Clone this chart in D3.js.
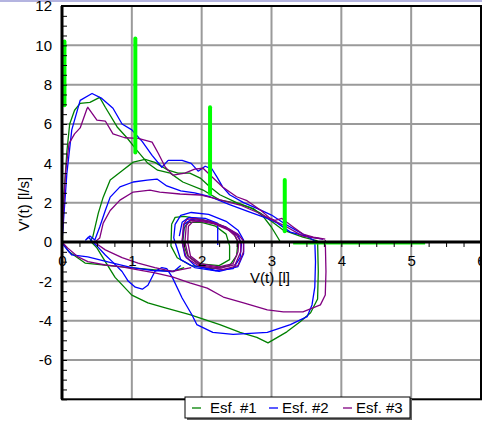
<!DOCTYPE html>
<html>
<head>
<meta charset="utf-8">
<script src="https://cdn.jsdelivr.net/npm/d3@7"></script>
<style>
  body { margin: 0; background: #fff; }
  svg { display: block; font-family: "Liberation Sans", Arial, sans-serif; }
</style>
</head>
<body>
<script>
// volume [l] / flow [l/s] pairs
let xTicks = [0, 1, 2, 3, 4, 5, 6]
let yTicks = [-6, -4, -2, 0, 2, 4, 6, 8, 10, 12]
let seriesNames = ["Esf. #1", "Esf. #2", "Esf. #3"]

// Esf. #1
let esf1Insp = [[1.75,-1.3],[1.58,-1.5],[1.33,-1.42],[0.86,-1.27],[0.33,-1.07],[0.1,-0.5],[0,0]]
let esf1Forced = [[0,0],[0.03,2.5],[0.07,4.6],[0.11,6.0],[0.18,6.7],[0.26,7.05],[0.4,7.1],[0.54,7.35],[0.62,6.85],[0.79,5.85],[0.93,5.3],[1.07,4.67],[1.23,4.0],[1.37,3.65],[1.55,3.5],[1.73,3.05],[2.02,2.64],[2.26,2.13],[2.5,1.98],[2.7,1.73],[2.84,1.47],[2.98,1.1],[3.17,0.6],[3.45,0.25],[3.66,0.05]]
let esf1InspBig = [[3.66,0.05],[3.67,-1.5],[3.66,-2.9],[3.56,-3.6],[3.41,-4.06],[3.22,-4.57],[2.95,-5.13],[2.79,-4.85],[2.55,-4.6],[2.26,-4.2],[1.83,-3.7],[1.48,-3.35],[1.23,-3.1],[1.0,-2.7],[0.76,-1.8],[0.62,-1.0],[0.5,-0.3],[0.42,0]]
let esf1Second = [[0.4,0],[0.44,0.25],[0.52,1.47],[0.59,2.28],[0.69,3.15],[0.87,3.65],[1.02,4.06],[1.19,4.2],[1.33,4.05],[1.52,3.65],[1.66,3.5],[1.83,3.5],[1.98,3.25],[2.12,2.8],[2.26,2.4],[2.5,2.0],[2.74,1.7],[2.88,1.3],[3.0,0.75],[3.12,0.05]]
let esf1TidalA = [[1.57,0.9],[1.62,1.25],[1.75,1.3],[2.0,1.15],[2.25,0.9],[2.45,0.5],[2.52,0],[2.5,-0.7],[2.4,-1.2],[2.15,-1.35],[1.85,-1.2],[1.65,-0.8],[1.56,-0.2],[1.57,0.9]]
let esf1TidalB = [[1.75,0.7],[1.8,1.0],[2.0,1.0],[2.2,0.8],[2.35,0.4],[2.4,-0.2],[2.4,-0.9],[2.25,-1.2],[1.95,-1.1],[1.8,-0.7],[1.73,0],[1.75,0.7]]

// Esf. #2
let esf2Insp = [[1.7,-1.2],[1.6,-1.5],[1.3,-1.45],[1.0,-1.3],[0.7,-1.05],[0.37,-0.76],[0.14,-0.66],[0.03,-0.2],[0,0]]
let esf2Forced = [[0,0],[0.03,1.5],[0.07,3.5],[0.14,5.7],[0.26,7.2],[0.43,7.55],[0.57,7.3],[0.73,6.8],[0.86,6.0],[1.0,5.7],[1.15,5.1],[1.29,4.4],[1.43,3.8],[1.52,4.15],[1.72,4.15],[1.85,4.0],[1.95,3.6],[2.05,3.85],[2.15,3.7],[2.22,3.3],[2.3,2.8],[2.4,2.4],[2.6,2.0],[2.8,1.7],[3.0,1.37],[3.2,0.9],[3.4,0.5],[3.55,0.2],[3.62,0.05]]
let esf2InspBig = [[3.62,0.05],[3.63,-1.0],[3.62,-2.3],[3.58,-3.2],[3.51,-3.8],[3.27,-4.2],[2.94,-4.6],[2.45,-4.7],[2.16,-4.6],[1.93,-4.2],[1.86,-3.7],[1.72,-2.85],[1.58,-1.8],[1.5,-1.35],[1.43,-1.3],[1.33,-1.5],[1.23,-2.2],[1.15,-2.4],[1.05,-2.3],[0.95,-2.0],[0.86,-1.5],[0.72,-1.0],[0.62,-0.66],[0.5,-0.2],[0.44,0]]
let esf2Second = [[0.44,0],[0.38,0.25],[0.34,0.1],[0.4,0.3],[0.47,0.1],[0.54,0.76],[0.62,1.6],[0.69,2.28],[0.83,2.8],[1.02,3.05],[1.22,3.15],[1.36,3.2],[1.5,2.85],[1.7,2.6],[1.9,2.5],[2.12,2.3],[2.4,1.9],[2.7,1.5],[2.94,1.2],[3.08,0.97],[3.27,0.5],[3.55,0.25],[3.74,0.15]]
let esf2TidalA = [[1.6,0.2],[1.62,0.9],[1.7,1.35],[1.85,1.5],[2.1,1.4],[2.35,1.05],[2.52,0.6],[2.6,0.1],[2.6,-0.6],[2.52,-1.25],[2.25,-1.5],[1.9,-1.3],[1.7,-0.9],[1.6,0.2]]
let esf2TidalB = [[1.68,0.3],[1.72,1.0],[1.82,1.25],[2.05,1.2],[2.23,0.95],[2.23,-0.15]]
let esf2TidalC = [[1.72,0],[1.75,0.9],[1.85,1.15],[2.1,1.05],[2.35,0.75],[2.52,0.35],[2.57,-0.1],[2.55,-0.8],[2.45,-1.35],[2.2,-1.45],[1.9,-1.2],[1.76,-0.7],[1.72,0]]

// Esf. #3
let esf3InspBig = [[3.77,0.1],[3.78,-1.5],[3.77,-2.7],[3.7,-3.2],[3.45,-3.55],[3.17,-3.55],[2.94,-3.45],[2.6,-3.1],[2.31,-2.8],[2.08,-2.35],[1.83,-2.08],[1.58,-1.78],[1.33,-1.57],[1.09,-1.42],[0.86,-1.27],[0.62,-1.17],[0.37,-1.0],[0.23,-0.76],[0.08,-0.3],[0,0]]
let esf3Insp = [[1.85,-1.3],[1.58,-1.5],[1.33,-1.3],[1.09,-1.07],[0.86,-0.8],[0.62,-0.4],[0.5,-0.1],[0.47,0]]
let esf3Forced = [[0,0],[0.02,1.5],[0.05,3.5],[0.1,5.0],[0.18,5.5],[0.26,5.8],[0.36,6.8],[0.37,6.85],[0.5,6.2],[0.62,6.15],[0.73,5.5],[0.9,5.3],[1.09,5.27],[1.29,5.08],[1.38,4.5],[1.48,3.8],[1.59,3.4],[1.76,3.5],[1.9,3.7],[2.02,3.75],[2.15,3.3],[2.3,2.8],[2.5,2.3],[2.65,2.1],[2.85,1.6],[2.98,1.2],[3.05,1.1],[3.15,1.2],[3.22,1.0],[3.31,0.76],[3.45,0.4],[3.6,0.25],[3.77,0.15]]
let esf3Second = [[0.47,0],[0.54,0.2],[0.59,0.96],[0.69,1.6],[0.83,2.13],[1.02,2.54],[1.26,2.64],[1.4,2.54],[1.69,2.44],[1.98,2.39],[2.2,2.2],[2.55,1.88],[2.8,1.5],[3.0,1.15],[3.2,0.8],[3.45,0.3],[3.74,0.15]]
let esf3TidalA = [[1.72,0.0],[1.74,0.9],[1.79,1.15],[1.9,1.2],[2.12,1.05],[2.35,0.75],[2.52,0.4],[2.6,0.05],[2.6,-0.5],[2.52,-1.2],[2.3,-1.4],[1.95,-1.2],[1.78,-0.8],[1.72,0.0]]
let esf3TidalB = [[1.76,0.0],[1.78,0.85],[1.84,1.08],[1.95,1.12],[2.15,0.98],[2.36,0.68],[2.5,0.35],[2.56,0.0],[2.56,-0.5],[2.48,-1.15],[2.27,-1.33],[1.96,-1.15],[1.81,-0.75],[1.76,0.0]]
let esf3TidalC = [[1.8,0.0],[1.81,0.8],[1.87,1.02],[1.98,1.05],[2.18,0.92],[2.38,0.62],[2.48,0.3],[2.53,-0.05],[2.52,-0.5],[2.45,-1.1],[2.25,-1.27],[1.98,-1.1],[1.84,-0.72],[1.8,0.0]]

// bright green markers: [volume, flow top, flow bottom]
let markerBars = [[0.035,10.2,6.95],[1.05,10.35,4.55],[2.12,6.85,2.45],[3.19,3.15,0.55]]
let markerBase = [[3.31,-0.06],[5.2,-0.06]]

let series = [
  {name: seriesNames[0], color: "#008000", segments: [esf1Insp, esf1Forced, esf1InspBig, esf1Second, esf1TidalA, esf1TidalB]},
  {name: seriesNames[1], color: "#0000ff", segments: [esf2Insp, esf2Forced, esf2InspBig, esf2Second, esf2TidalA, esf2TidalB, esf2TidalC]},
  {name: seriesNames[2], color: "#800080", segments: [esf3InspBig, esf3Insp, esf3Forced, esf3Second, esf3TidalA, esf3TidalB, esf3TidalC]}
]

let width = 482, height = 421
let svg = d3.select("body")
  .append("svg")
  .attr("width", width)
  .attr("height", height)

let x = d3.scaleLinear().domain([0, 6]).range([62, 481])
let y = d3.scaleLinear().domain([-8, 12]).range([399.3, 6])

// thin lavender strip at the very top
svg.append("rect")
  .attr("x", 0).attr("y", 0)
  .attr("width", width).attr("height", 2)
  .style("fill", "#b4b4e0")

// grid
let grid = svg.append("g")
grid.selectAll(".gx")
  .data(d3.range(1, 6))
  .enter()
  .append("line")
  .attr("x1", d => x(d)).attr("x2", d => x(d))
  .attr("y1", y(12)).attr("y2", y(-8))
  .style("stroke", "#9a9a9a")
  .style("stroke-width", 2)
grid.selectAll(".gy")
  .data(d3.range(-6, 12, 2).filter(d => d !== 0))
  .enter()
  .append("line")
  .attr("x1", x(0)).attr("x2", x(6))
  .attr("y1", d => y(d)).attr("y2", d => y(d))
  .style("stroke", "#9a9a9a")
  .style("stroke-width", 2)

svg.append("rect")
  .attr("x", x(0)).attr("y", y(12))
  .attr("width", x(6) - x(0)).attr("height", y(-8) - y(12))
  .style("fill", "none")
  .style("stroke", "#000")
  .style("stroke-width", 2)

// curves
let line = d3.line().x(d => x(d[0])).y(d => y(d[1]))
series.forEach(s => {
  svg.append("g")
    .selectAll("path")
    .data(s.segments)
    .enter()
    .append("path")
    .attr("d", line)
    .style("fill", "none")
    .style("stroke", s.color)
    .style("stroke-width", 1.3)
    .style("stroke-linejoin", "round")
})

// green markers
svg.append("path")
  .attr("d", line(markerBase))
  .style("stroke", "#00ff00")
  .style("stroke-width", 2.5)
svg.selectAll(".bar")
  .data(markerBars)
  .enter()
  .append("line")
  .attr("x1", d => x(d[0])).attr("x2", d => x(d[0]))
  .attr("y1", d => y(d[1])).attr("y2", d => y(d[2]))
  .style("stroke", "#00ff00")
  .style("stroke-width", 4)
  .style("stroke-linecap", "round")

// axes through the origin
let xMinor = d3.axisBottom(x).tickValues(d3.range(0, 6.01, 0.25)).tickSize(5).tickFormat("")
let xAxis = svg.append("g")
  .attr("transform", `translate(0,${y(0)})`)
  .call(xMinor)
xAxis.select(".domain").remove()
xAxis.selectAll("line").style("stroke-width", 1)

let yMinor = d3.axisRight(y).tickValues(d3.range(-8, 12.01, 0.5)).tickSize(5).tickFormat("")
let yAxis = svg.append("g")
  .attr("transform", `translate(${x(0)},0)`)
  .call(yMinor)
yAxis.select(".domain").remove()

svg.append("line")
  .attr("x1", x(0)).attr("x2", x(6))
  .attr("y1", y(0)).attr("y2", y(0))
  .style("stroke", "#000").style("stroke-width", 3)
svg.append("line")
  .attr("x1", x(0)).attr("x2", x(0))
  .attr("y1", y(12)).attr("y2", y(-8))
  .style("stroke", "#000").style("stroke-width", 3)

let xLabels = svg.append("g")
  .attr("transform", `translate(0,${y(0)})`)
  .call(d3.axisBottom(x).tickValues(xTicks).tickSize(0).tickPadding(13).tickFormat(d3.format("d")))
xLabels.select(".domain").remove()
xLabels.selectAll("text").attr("font-size", "15px").attr("font-family", "Liberation Sans, Arial, sans-serif").attr("fill", "#000")

let yLabels = svg.append("g")
  .attr("transform", `translate(${x(0)},0)`)
  .call(d3.axisLeft(y).tickValues(yTicks).tickSize(0).tickPadding(10).tickFormat(d => d < 0 ? "-" + Math.abs(d) : d))
yLabels.select(".domain").remove()
yLabels.selectAll("text").attr("font-size", "15px").attr("font-family", "Liberation Sans, Arial, sans-serif").attr("fill", "#000")

// axis titles
svg.append("text")
  .attr("x", 270).attr("y", 283)
  .attr("text-anchor", "middle")
  .attr("font-size", "15px")
  .text("V(t) [l]")
svg.append("text")
  .attr("transform", "translate(29,204) rotate(-90)")
  .attr("text-anchor", "middle")
  .attr("font-size", "15px")
  .text("V'(t) [l/s]")

// legend
let legend = svg.append("g")
legend.append("rect")
  .attr("x", 187).attr("y", 399)
  .attr("width", 225).attr("height", 21)
  .style("fill", "#666")
legend.append("rect")
  .attr("x", 185).attr("y", 397)
  .attr("width", 225).attr("height", 21)
  .style("fill", "#fff")
  .style("stroke", "#000")
  .style("stroke-width", 1)
let legendX = [192, 269, 343]
let items = legend.selectAll(".item")
  .data(series)
  .enter()
  .append("g")
  .attr("transform", (d, i) => `translate(${legendX[i]},408)`)
items.append("line")
  .attr("x1", 0).attr("x2", 9)
  .style("stroke", d => d.color)
  .style("stroke-width", 1.3)
items.append("text")
  .attr("x", (d, i) => i === 0 ? 18 : 13)
  .attr("y", 5)
  .attr("font-size", "15px")
  .text(d => d.name)
</script>
</body>
</html>
